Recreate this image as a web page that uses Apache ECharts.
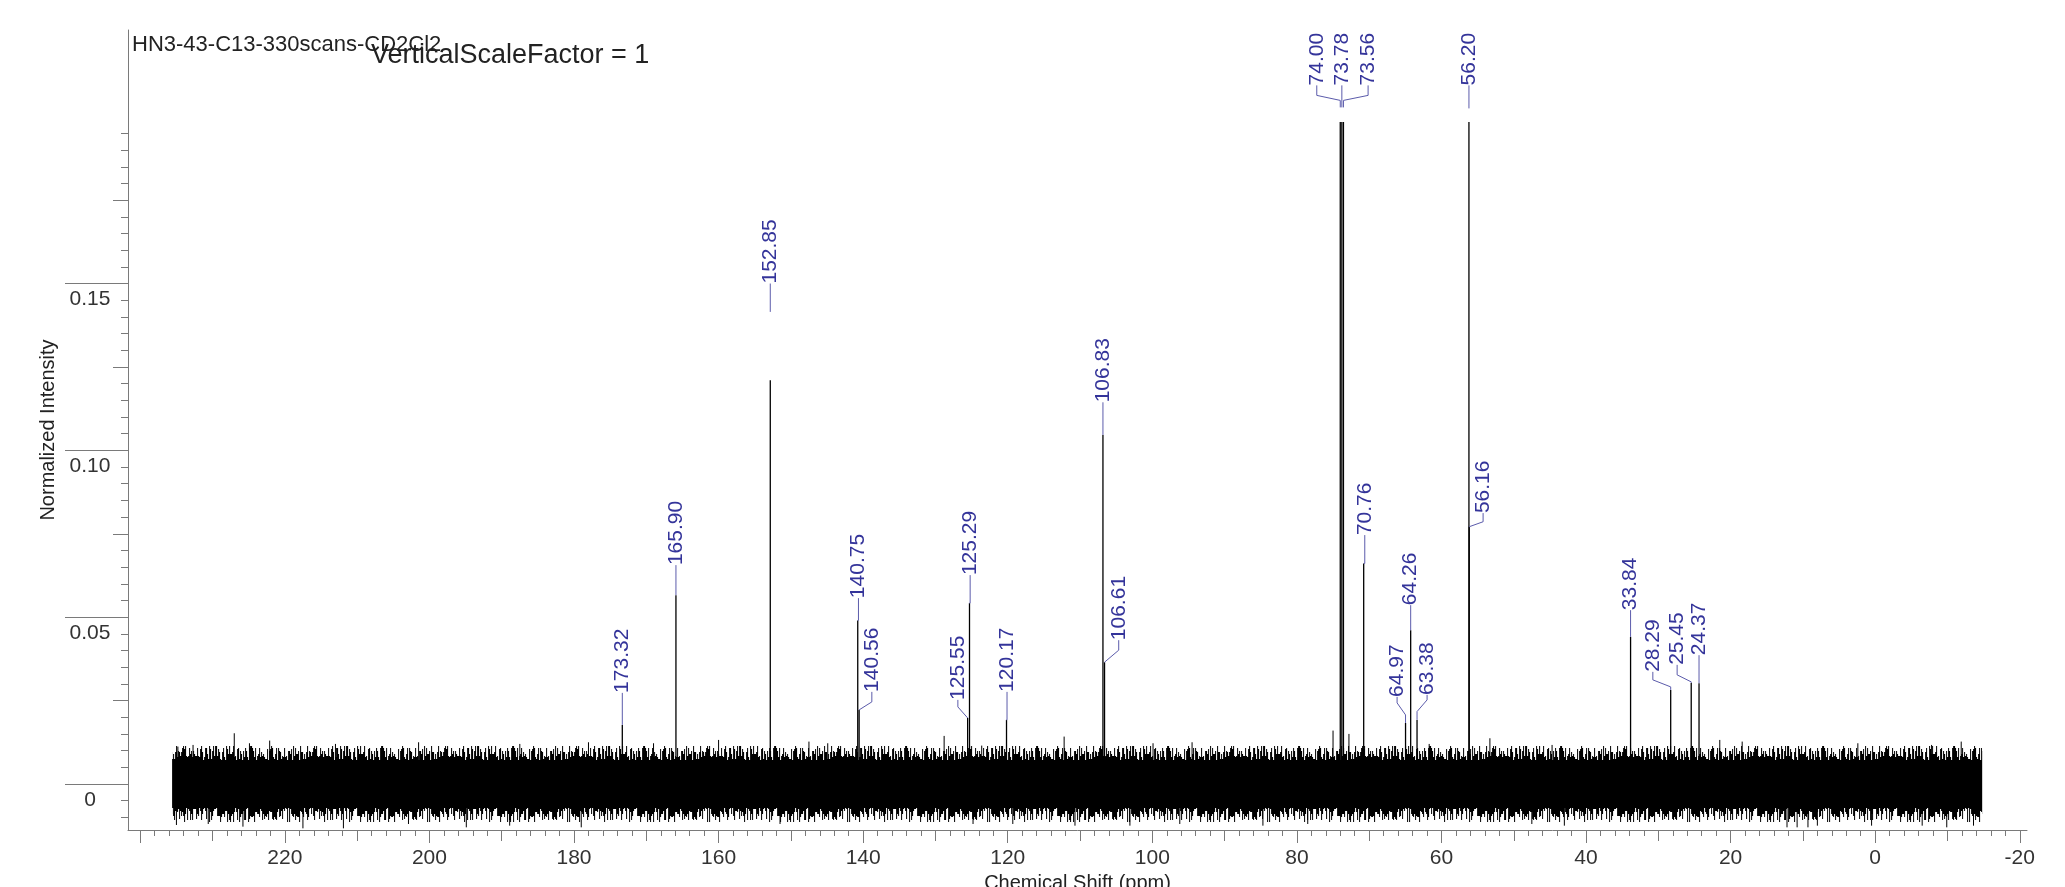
<!DOCTYPE html>
<html><head><meta charset="utf-8">
<script src="https://cdn.jsdelivr.net/npm/echarts@6/dist/echarts.min.js"></script>
<style>html,body{margin:0;padding:0;background:#fff}#c{width:2065px;height:887px}</style>
</head><body><div id="c"></div>
<script>
// ---------- data ----------
const sampleName = 'HN3-43-C13-330scans-CD2Cl2';
const scaleNote = 'VerticalScaleFactor = 1';
const xTitle = 'Chemical Shift (ppm)';
const yTitle = 'Normalized Intensity';

// peaks (ppm) and their heights (normalized intensity)
const peakPpm    = [173.32,165.90,152.85,140.75,140.56,125.55,125.29,120.17,106.83,106.61,74.00,73.78,73.56,70.76,64.97,64.26,63.38,56.20,56.16,33.84,28.29,25.45,24.37];
const peakHeight = [0.0177,0.0566,0.1210,0.0490,0.0222,0.0198,0.0542,0.0192,0.1046,0.0365,0.1984,0.1984,0.1984,0.0661,0.0183,0.0461,0.0192,0.1984,0.0771,0.0441,0.0282,0.0303,0.0302];
// label annotation (data units): label centre ppm, intensity at text foot, leader bend start, leader bend end, leader end
const labelPpm    = [173.32,165.90,152.85,140.65,138.80,126.90,125.20,120.10,106.83,104.65,77.25,73.78,70.15,70.61,66.14,64.26,61.99,56.20,54.24,33.84,30.76,27.40,24.37];
const labelFoot   = [0.0273,0.0656,0.1500,0.0557,0.0276,0.0252,0.0626,0.0276,0.1144,0.0431,0.2094,0.2094,0.2094,0.0746,0.0261,0.0536,0.0267,0.2094,0.0812,0.0521,0.0336,0.0357,0.0386];
const leaderBendA = [0.0177,0.0566,0.1415,0.0490,0.0246,0.0231,0.0542,0.0192,0.1046,0.0401,0.2064,0.2028,0.2064,0.0661,0.0243,0.0461,0.0252,0.2025,0.0786,0.0441,0.0312,0.0327,0.0302];
const leaderBendB = [0.0177,0.0566,0.1415,0.0490,0.0222,0.0198,0.0542,0.0192,0.1046,0.0365,0.2049,0.2028,0.2049,0.0661,0.0207,0.0461,0.0217,0.2025,0.0771,0.0441,0.0291,0.0306,0.0302];
const leaderEnd   = [0.0177,0.0566,0.1415,0.0490,0.0222,0.0198,0.0542,0.0192,0.1046,0.0365,0.2028,0.2028,0.2028,0.0661,0.0183,0.0461,0.0192,0.2025,0.0771,0.0441,0.0282,0.0303,0.0302];

// baseline noise: ppm extent, solid core level and outer reach of the hairy fringe (x1e-3)
const noiseRangePpm = [235.6, -14.8];
const noiseCore  = [6.5, -6.5];
const noiseFringe = [11.5, -11.5];
// individual noise spikes (ppm, x1e-3)
const spikeUpPpm = [234.8,232.7,227.0,224.9,222.1,213.0,201.5,187.5,178.0,169.0,160.0,147.5,144.9,128.8,123.6,112.2,99.9,94.5,
                    75.0,72.8,61.7,53.3,44.7,21.5,18.4,2.4,-7.8,-11.9];
const spikeUpVal = [11.2,11.7,15.2,12.2,13.0,12.0,12.5,12.0,12.5,12.2,13.2,12.7,12.2,14.4,11.5,14.2,12.2,12.5,
                    16.0,15.0,12.0,13.7,11.7,13.2,12.7,12.2,11.7,12.7];
const spikeDownPpm = [235.0,230.6,225.8,217.5,211.9,202.9,194.9,188.9,179.0,151.5,124.8,119.3,110.7,103.1,96.2,84.7,78.5,47.5,43.0,
                      12.2,10.8,9.3,8.0,0.5,-6.5,-9.9,-13.6];
const spikeDownVal = [-12.3,-12.0,-12.8,-13.3,-13.3,-12.0,-13.0,-12.5,-13.0,-12.0,-12.0,-12.0,-12.5,-12.5,-12.0,-12.5,-12.0,-12.0,-12.5,
                      -13.0,-13.0,-13.0,-12.5,-12.5,-12.5,-13.0,-12.5];

// tick positions
const xLabelTicks = [-20,0,20,40,60,80,100,120,140,160,180,200,220];
const xMajorTicks = [-20,0,20,40,60,80,100,120,140,160,180,200,220,240];
const xMidTicks   = [-10,10,30,50,70,90,110,130,150,170,190,210,230];
const yLabelTicks = [0,0.05,0.10,0.15];
const yMidTicks   = [0.025,0.075,0.125,0.175];

// ---------- style helpers ----------
// texture for the hairy fringe of the baseline noise (column heights taken from the digits of pi)
const TEX_UP = '14159265358979323846264338327950288419716939937510582097494459230781640628620899862803482534211706798214808651328230664709384460955';
const TEX_DN = '05822317253594081284811174502841027019385211055596446229489549303819644288109756659334461284756482337867831652712019091456485669234603486104';
const xMinorTicks = []; for (let v=-20; v<=240; v+=2) xMinorTicks.push(v);
const yMinorTicks = []; for (let k=-2; k<=39; k++) yMinorTicks.push(+(k*0.005).toFixed(3));
const XMIN=-21, XMAX=241.7, YMIN=-0.0138, YMAX=0.226;
const FONT = '"Liberation Sans", Arial, sans-serif';
const AXC = '#7a7a7a';
const LBL = '#34349a';

function makeTile(str, H, up){
  const c = document.createElement('canvas'); c.width = str.length; c.height = H;
  const g = c.getContext('2d'); g.fillStyle = '#000';
  for (let i=0;i<str.length;i++){
    const h = Math.max(1, Math.round((+str[i]+1)/10*H));
    if (up) g.fillRect(i, H-h, 1, h); else g.fillRect(i, 0, 1, h);
  }
  return c;
}

function xAxisDef(ticks, len, show){
  return {type:'value', inverse:true, min:XMIN, max:XMAX, gridIndex:0, position:'bottom', offset:0,
    axisLine:{show:show, onZero:false, lineStyle:{color:AXC,width:1}},
    splitLine:{show:false},
    axisTick:{show:true, customValues:ticks, length:len, lineStyle:{color:AXC,width:1}},
    axisLabel:{show:false}};
}
function yAxisDef(ticks, len, show){
  return {type:'value', min:YMIN, max:YMAX, gridIndex:0, position:'left', offset:0,
    axisLine:{show:show, onZero:false, lineStyle:{color:AXC,width:1}},
    splitLine:{show:false},
    axisTick:{show:true, customValues:ticks, length:len, lineStyle:{color:AXC,width:1}},
    axisLabel:{show:false}};
}

const xMain = xAxisDef(xMajorTicks, 13, true);
xMain.axisLabel = {show:true, customValues:xLabelTicks, margin:18, color:'#333', fontFamily:FONT, fontSize:21};
xMain.name = xTitle; xMain.nameLocation='middle'; xMain.nameGap=43;
xMain.nameTextStyle = {color:'#222', fontFamily:FONT, fontSize:20};

const yMain = yAxisDef(yLabelTicks, 63, true);
yMain.axisLabel = {show:true, customValues:yLabelTicks, margin:38, align:'center', verticalAlign:'top',
  lineHeight:32, color:'#333', fontFamily:FONT, fontSize:21,
  formatter: v => v===0 ? '0' : v.toFixed(2)};
yMain.name = yTitle; yMain.nameLocation='middle'; yMain.nameGap=64; yMain.nameRotate=90;
yMain.nameTextStyle = {color:'#222', fontFamily:FONT, fontSize:20};

function renderNoise(params, api){
  const x0 = api.coord([noiseRangePpm[0], 0])[0], x1 = api.coord([noiseRangePpm[1], 0])[0];
  const yCT = Math.round(api.coord([0, noiseCore[0]/1000])[1]);
  const yCB = Math.round(api.coord([0, noiseCore[1]/1000])[1]);
  const yFT = Math.round(api.coord([0, noiseFringe[0]/1000])[1]);
  const yFB = Math.round(api.coord([0, noiseFringe[1]/1000])[1]);
  const hT = yCT - yFT, hB = yFB - yCB;
  const tileUp = makeTile(TEX_UP, hT, true), tileDn = makeTile(TEX_DN, hB, false);
  return {type:'group', children:[
    {type:'rect', shape:{x:x0, y:yCT, width:x1-x0, height:yCB-yCT}, style:{fill:'#000'}},
    {type:'rect', shape:{x:x0, y:yFT, width:x1-x0, height:hT},
      style:{fill:{type:'pattern', image:tileUp, repeat:'repeat-x', x:x0, y:yFT}}},
    {type:'rect', shape:{x:x0, y:yCB, width:x1-x0, height:hB},
      style:{fill:{type:'pattern', image:tileDn, repeat:'repeat-x', x:x0, y:yCB}}}
  ]};
}
function renderStick(w){
  return function(params, api){
    const x = api.value(0), y = api.value(1);
    const p0 = api.coord([x,0]), p1 = api.coord([x,y]);
    return {type:'line', shape:{x1:p0[0],y1:p0[1],x2:p1[0],y2:p1[1]}, style:{stroke:'#000', lineWidth:w}};
  };
}
function renderLabel(params, api){
  const i = params.dataIndex;
  const foot = api.coord([labelPpm[i], labelFoot[i]]);
  const a = api.coord([labelPpm[i], leaderBendA[i]]);
  const b = api.coord([peakPpm[i], leaderBendB[i]]);
  const e = api.coord([peakPpm[i], leaderEnd[i]]);
  return {type:'group', children:[
    {type:'polyline', shape:{points:[foot,a,b,e]}, style:{stroke:'#5b5bab', lineWidth:1, fill:null}},
    {type:'text', x:foot[0], y:foot[1], rotation:Math.PI/2,
     style:{text:peakPpm[i].toFixed(2), fill:LBL, font:'21px '+FONT, align:'left', verticalAlign:'middle'}}
  ]};
}

const chart = echarts.init(document.getElementById('c'), null, {renderer:'canvas'});
chart.setOption({
  animation:false,
  backgroundColor:'#fff',
  grid:{left:128, right:38, top:30, bottom:57, containLabel:false, outerBoundsMode:'none'},
  xAxis:[xMain, xAxisDef(xMidTicks,11,false), xAxisDef(xMinorTicks,6,false)],
  yAxis:[yMain, yAxisDef(yMidTicks,15,false), yAxisDef(yMinorTicks,7,false)],
  graphic:[
    {type:'text', left:132, top:34, style:{text:sampleName, fill:'#222', font:'22px '+FONT}},
    {type:'text', left:371, top:42, style:{text:scaleNote, fill:'#222', font:'27px '+FONT}}
  ],
  series:[
    {type:'custom', name:'noise', renderItem:renderNoise, data:[[noiseRangePpm[0], noiseFringe[0]/1000]], clip:false, silent:true},
    {type:'custom', name:'spikesUp', renderItem:renderStick(1), data:spikeUpPpm.map((p,i)=>[p, spikeUpVal[i]/1000]), silent:true},
    {type:'custom', name:'spikesDown', renderItem:renderStick(1), data:spikeDownPpm.map((p,i)=>[p, spikeDownVal[i]/1000]), silent:true},
    {type:'custom', name:'peaks', renderItem:renderStick(1.3), data:peakPpm.map((p,i)=>[p, peakHeight[i]]), silent:true},
    {type:'custom', name:'labels', renderItem:renderLabel, data:peakPpm.map((p,i)=>[labelPpm[i], labelFoot[i]]), clip:false, silent:true}
  ]
});
</script>
</body></html>
